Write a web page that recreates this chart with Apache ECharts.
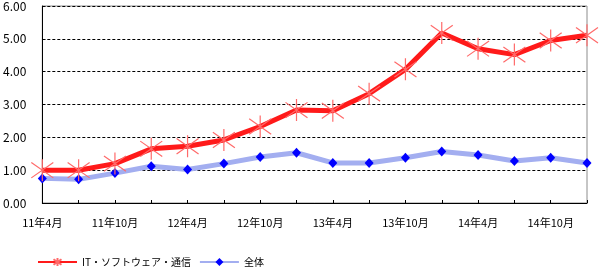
<!DOCTYPE html>
<html><head><meta charset="utf-8">
<script src="https://cdn.jsdelivr.net/npm/echarts@6/dist/echarts.min.js"></script>
<style>html,body{margin:0;padding:0;background:#fff}#c{width:600px;height:277px}</style>
</head><body><div id="c"></div>
<script>
const categories = ['11年4月','11年7月','11年10月','12年1月','12年4月','12年7月','12年10月','13年1月','13年4月','13年7月','13年10月','14年1月','14年4月','14年7月','14年10月','15年1月'];
const itSoftware = [1.00,1.00,1.20,1.65,1.73,1.92,2.33,2.83,2.81,3.33,4.07,5.18,4.70,4.52,4.95,5.11];
const overall = [0.75,0.72,0.91,1.12,1.02,1.20,1.40,1.53,1.22,1.22,1.38,1.57,1.46,1.28,1.38,1.22];
const seriesNames = ['IT・ソフトウェア・通信','全体'];

const font = "'Noto Sans CJK JP', sans-serif";
const chart = echarts.init(document.getElementById('c'), null, {renderer:'canvas'});
chart.setOption({
  animation:false,
  backgroundColor:'#fff',
  textStyle:{fontFamily:font},
  grid:{left:41,right:13,top:5,bottom:74,show:true,borderColor:'#8c8c8c',borderWidth:1,backgroundColor:'transparent'},
  legend:{
    left:37, top:257, padding:0, itemWidth:39, itemHeight:10, itemGap:8,
    textStyle:{fontFamily:font,fontSize:10,color:'#000'},
    data:seriesNames
  },
  xAxis:{
    type:'category', data:categories, boundaryGap:false,
    axisLine:{lineStyle:{color:'#000',width:1}},
    axisTick:{inside:true,length:3,interval:0,lineStyle:{color:'#000'}},
    axisLabel:{interval:1,margin:14,fontSize:11,color:'#000',fontFamily:font},
    splitLine:{show:false}
  },
  yAxis:{
    type:'value', min:0, max:6, interval:1,
    axisLine:{show:true,lineStyle:{color:'#000',width:1}},
    axisTick:{show:true,inside:true,length:3,lineStyle:{color:'#000'}},
    axisLabel:{margin:16,fontSize:12,color:'#000',fontFamily:font,formatter:v=>v.toFixed(2)},
    splitLine:{show:true,lineStyle:{color:'#000',type:[3,2],width:1}}
  },
  series:[
    {
      name:seriesNames[0], type:'line', data:itSoftware, z:3,
      symbol:'path://M10,0 L10,20 M0,3 L20,17 M0,17 L20,3',
      symbolSize:22, symbolKeepAspect:true,
      lineStyle:{color:'#ff1a1a',width:5},
      itemStyle:{color:'rgba(255,0,0,0)',borderColor:'#ff6a6a',borderWidth:1.2},
      color:'#ff1a1a'
    },
    {
      name:seriesNames[1], type:'line', data:overall, z:2,
      symbol:'diamond', symbolSize:[9,10],
      lineStyle:{color:'#a3aef0',width:5},
      itemStyle:{color:'#0000ff'},
      color:'#a3aef0'
    }
  ]
});
</script></body></html>
